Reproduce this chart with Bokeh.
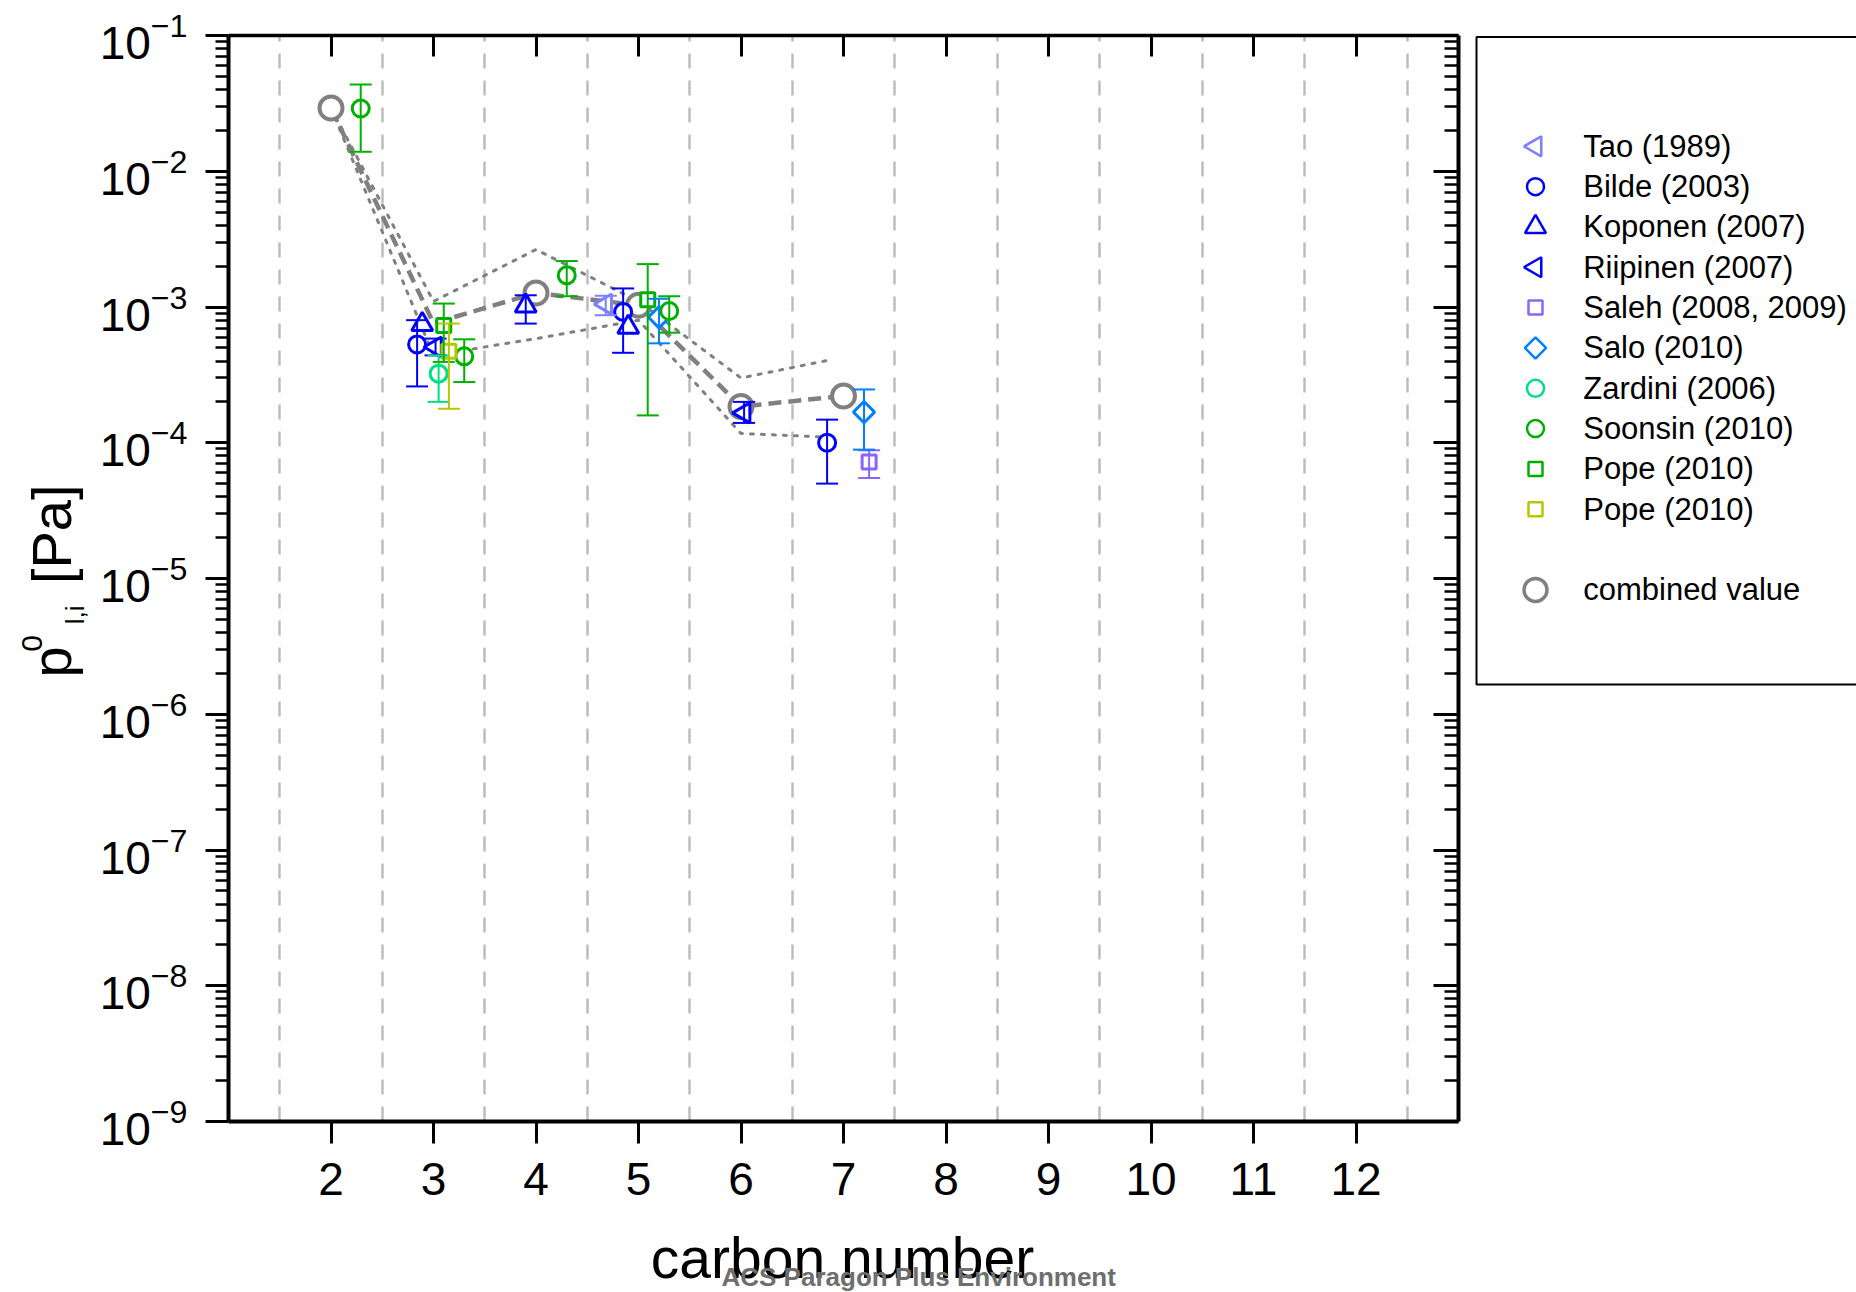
import math
from bokeh.plotting import figure
from bokeh.models import (ColumnDataSource, Whisker, TeeHead, LogAxis, LinearAxis,
                          FixedTicker, Range1d, CustomJSTickFormatter)
from bokeh.layouts import row, column
from bokeh.embed import file_html
from bokeh.resources import INLINE
from bokeh.core.properties import value

FONT = "Liberation Sans"

# ---------------- data ----------------
x_ticks = [2, 3, 4, 5, 6, 7, 8, 9, 10, 11, 12]
x_grid = [1.5, 2.5, 3.5, 4.5, 5.5, 6.5, 7.5, 8.5, 9.5, 10.5, 11.5, 12.5]
y_decades = [1e-9, 1e-8, 1e-7, 1e-6, 1e-5, 1e-4, 1e-3, 1e-2, 1e-1]

tao_x = [4.68]
tao_y = [1.05e-3]
tao_lo = [8.7e-4]
tao_hi = [1.21e-3]

bilde_x = [2.84, 4.85, 6.84]
bilde_y = [5.3e-4, 9.2e-4, 1.0e-4]
bilde_lo = [2.6e-4, 4.6e-4, 5.0e-5]
bilde_hi = [8.0e-4, 1.37e-3, 1.48e-4]

koponen_x = [2.89, 3.90, 4.90]
koponen_y = [7.45e-4, 1.02e-3, 7.1e-4]
koponen_lo = [None, 7.55e-4, None]
koponen_hi = [None, 1.22e-3, None]

riipinen_x = [3.02, 6.03]
riipinen_y = [5.07e-4, 1.66e-4]
riipinen_lo = [4.4e-4, 1.4e-4]
riipinen_hi = [5.85e-4, 2.0e-4]

saleh_x = [7.25]
saleh_y = [7.2e-5]
saleh_lo = [5.5e-5]
saleh_hi = [8.8e-5]

salo_x = [5.20, 7.20]
salo_y = [8.4e-4, 1.68e-4]
salo_lo = [5.4e-4, 8.9e-5]
salo_hi = [1.15e-3, 2.47e-4]

zardini_x = [3.05]
zardini_y = [3.23e-4]
zardini_lo = [2.0e-4]
zardini_hi = [4.4e-4]

soonsin_x = [2.29, 3.30, 4.30, 5.30]
soonsin_y = [2.9e-2, 4.33e-4, 1.71e-3, 9.35e-4]
soonsin_lo = [1.39e-2, 2.8e-4, 1.2e-3, 6.47e-4]
soonsin_hi = [4.36e-2, 5.78e-4, 2.18e-3, 1.2e-3]

pope_x = [3.10, 5.09]
pope_y = [7.3e-4, 1.13e-3]
pope_lo = [3.94e-4, 1.59e-4]
pope_hi = [1.06e-3, 2.07e-3]

pope2_x = [3.15]
pope2_y = [4.72e-4]
pope2_lo = [1.78e-4]
pope2_hi = [7.55e-4]

combined_x = [2, 3, 4, 5, 6, 7]
combined_y = [2.92e-2, 7.6e-4, 1.27e-3, 1.03e-3, 1.85e-4, 2.21e-4]
combined_marker = [True, False, True, True, True, True]

upper_x = [2, 3, 4, 5, 6, 6.85]
upper_y = [2.92e-2, 1.1e-3, 2.65e-3, 1.1e-3, 3.0e-4, 4.05e-4]
lower_x = [2, 3, 4, 5, 6, 6.85]
lower_y = [2.92e-2, 4.4e-4, 5.85e-4, 8.0e-4, 1.17e-4, 1.1e-4]

series_names = ["Tao (1989)", "Bilde (2003)", "Koponen (2007)", "Riipinen (2007)",
                "Saleh (2008, 2009)", "Salo (2010)", "Zardini (2006)", "Soonsin (2010)",
                "Pope (2010)", "Pope (2010)"]
combined_name = "combined value"
x_title = "carbon number"
y_title_parts = ["p", "0", "l,i", "[Pa]"]
watermark = "ACS Paragon Plus Environment"

# ---------------- styles ----------------
LEFT = math.pi / 2
series = [
    (tao_x, tao_y, tao_lo, tao_hi, "#8080ff", "triangle", LEFT, 20),
    (bilde_x, bilde_y, bilde_lo, bilde_hi, "#0000ff", "circle", 0, 17),
    (koponen_x, koponen_y, koponen_lo, koponen_hi, "#0000ff", "triangle", 0, 21),
    (riipinen_x, riipinen_y, riipinen_lo, riipinen_hi, "#0000ff", "triangle", LEFT, 20),
    (saleh_x, saleh_y, saleh_lo, saleh_hi, "#8866ff", "square", 0, 14),
    (salo_x, salo_y, salo_lo, salo_hi, "#0080ff", "square", math.pi / 4, 15),
    (zardini_x, zardini_y, zardini_lo, zardini_hi, "#00e080", "circle", 0, 17),
    (soonsin_x, soonsin_y, soonsin_lo, soonsin_hi, "#00b000", "circle", 0, 17),
    (pope_x, pope_y, pope_lo, pope_hi, "#00b000", "square", 0, 14),
    (pope2_x, pope2_y, pope2_lo, pope2_hi, "#b4c800", "square", 0, 14),
]
GRAY = "#808080"

# layout geometry (page pixels)
TOP, FH, BOT = 35, 1086, 96
YW = 96                # left panel with the y title
FW = 1230              # plot frame width
MAIN_LEFT = 227 - YW   # room for the y tick labels
MAIN_RIGHT = 10
LEGW = 1856 - (YW + MAIN_LEFT + FW + MAIN_RIGHT)
BOTTOM_H = 1292 - (TOP + FH + BOT)
LEG_X0 = YW + MAIN_LEFT + FW + MAIN_RIGHT


def panel(w, y_lo, y_hi, top, bot):
    f = figure(frame_width=w, frame_height=(y_hi - y_lo) if top is None else FH,
               x_range=Range1d(0, w), y_range=Range1d(y_hi, y_lo),
               min_border_left=0, min_border_right=0,
               min_border_top=top if top is not None else 0,
               min_border_bottom=bot if bot is not None else 0,
               x_axis_type=None, y_axis_type=None,
               output_backend="svg", toolbar_location=None)
    f.outline_line_color = None
    f.background_fill_color = "white"
    f.border_fill_color = "white"
    f.grid.visible = False
    return f


# ---------------- main figure ----------------
p = figure(x_range=Range1d(1, 13), y_range=Range1d(1e-9, 1e-1), y_axis_type="log",
           frame_width=FW, frame_height=FH,
           min_border_left=MAIN_LEFT, min_border_right=MAIN_RIGHT,
           min_border_top=TOP, min_border_bottom=BOT,
           output_backend="svg", toolbar_location=None)
p.outline_line_color = None
p.background_fill_color = "white"
p.border_fill_color = "white"

minor = [m * d for d in y_decades[:-1] for m in range(2, 10)]

xa = p.xaxis[0]
xa.ticker = FixedTicker(ticks=x_ticks)
xa.major_tick_out = 22
xa.major_tick_in = 0
xa.minor_tick_out = 0
xa.minor_tick_in = 0
xa.major_tick_line_width = 3
xa.axis_line_width = 4
xa.major_label_text_font = FONT
xa.major_label_text_font_size = "46px"
xa.major_label_text_color = "black"
xa.major_label_standoff = 19

ya = p.yaxis[0]
ya.ticker = FixedTicker(ticks=y_decades, minor_ticks=minor)
ya.major_tick_out = 23
ya.major_tick_in = 0
ya.minor_tick_out = 13
ya.minor_tick_in = 0
ya.major_tick_line_width = 3
ya.minor_tick_line_width = 2.5
ya.axis_line_width = 4
ya.major_label_text_font = FONT
ya.major_label_text_font_size = "46px"
ya.major_label_text_color = "black"
ya.major_label_standoff = 18

top_axis = LinearAxis(ticker=FixedTicker(ticks=x_ticks),
                      formatter=CustomJSTickFormatter(code="return ''"),
                      major_tick_in=21, major_tick_out=0, minor_tick_in=0, minor_tick_out=0,
                      major_tick_line_width=3, axis_line_width=3.5,
                      major_label_standoff=0, major_label_text_font_size="1px")
p.add_layout(top_axis, "above")

right_axis = LogAxis(ticker=FixedTicker(ticks=y_decades, minor_ticks=minor),
                     formatter=CustomJSTickFormatter(code="return ''"),
                     major_tick_in=25, major_tick_out=0, minor_tick_in=14, minor_tick_out=0,
                     major_tick_line_width=3, minor_tick_line_width=2.5, axis_line_width=4,
                     major_label_standoff=0, major_label_text_font_size="1px")
p.add_layout(right_axis, "right")

p.xgrid.ticker = FixedTicker(ticks=x_grid)
p.xgrid.grid_line_color = "#bdbdbd"
p.xgrid.grid_line_width = 2.5
p.xgrid.grid_line_dash = "15 12"
p.ygrid.visible = False

# bound and combined lines
p.line(upper_x, upper_y, line_color=GRAY, line_width=3, line_dash="3 8", line_cap="round")
p.line(lower_x, lower_y, line_color=GRAY, line_width=3, line_dash="3 8", line_cap="round")
p.line(combined_x, combined_y, line_color=GRAY, line_width=4.5, line_dash="13 7")
cmx = [x for x, s in zip(combined_x, combined_marker) if s]
cmy = [y for y, s in zip(combined_y, combined_marker) if s]
p.scatter(cmx, cmy, marker="circle", size=23, line_color=GRAY, line_width=4, fill_color="white")

# error bars
for xs, ys, lo, hi, col, mk, ang, sz in series:
    bx = [x for x, l in zip(xs, lo) if l is not None]
    bl = [l for l in lo if l is not None]
    bh = [h for h in hi if h is not None]
    if not bx:
        continue
    src = ColumnDataSource(dict(x=bx, lo=bl, hi=bh))
    w = Whisker(source=src, base="x", lower="lo", upper="hi", dimension="height",
                line_color=col, line_width=2, level="glyph",
                upper_head=TeeHead(size=22, line_color=col, line_width=2),
                lower_head=TeeHead(size=22, line_color=col, line_width=2))
    p.add_layout(w)

# data markers
for xs, ys, lo, hi, col, mk, ang, sz in series:
    p.scatter(xs, ys, marker=mk, size=sz, angle=ang, line_color=col, line_width=3,
              fill_color="white")

# ---------------- left panel: y-axis title ----------------
yfig = panel(YW, TOP, TOP + FH, TOP, BOT)
# (visual-centre x, start y, font size) for p, superscript 0, subscript l,i and [Pa]
yt_x = [51, 31.2, 74.2, 51]
yt_y = [677, 651.3, 623.7, 583.6]
yt_size = ["56px", "30px", "26px", "56px"]
for t, xx, yy, fs in zip(y_title_parts, yt_x, yt_y, yt_size):
    yfig.text(x=[xx], y=[yy], text=[t], angle=math.pi / 2, text_font=value(FONT),
              text_font_size=fs, text_color="black", text_align="left",
              text_baseline="middle")

# ---------------- legend panel ----------------
leg = panel(LEGW, TOP, TOP + FH, TOP, BOT)
leg.quad(left=[1475 - LEG_X0], right=[LEGW + 40], top=[TOP + 1.5], bottom=[684],
         fill_color=None, line_color="black", line_width=2)

ROW0, PITCH = 145.8, 40.33
MX, TX = 1534 - LEG_X0, 1581.7 - LEG_X0
row_y = [ROW0 + PITCH * i for i in range(len(series_names))]
for (xs, ys, lo, hi, col, mk, ang, sz), yy in zip(series, row_y):
    leg.scatter([MX], [yy], marker=mk, size=sz, angle=ang, line_color=col,
                line_width=2.5, fill_color="white")
comb_row = ROW0 + PITCH * (len(series_names) + 1)
leg.scatter([MX], [comb_row], marker="circle", size=23, line_color=GRAY,
            line_width=3.5, fill_color="white")

labels = series_names + [combined_name]
label_y = row_y + [comb_row]
leg.text(x=[TX] * len(labels), y=label_y, text=labels, text_font=value(FONT),
         text_font_size="31px", text_color="black", text_align="left",
         text_baseline="middle")

# ---------------- bottom panel: x-axis title and watermark ----------------
Y0 = TOP + FH + BOT
bfig = panel(1856, Y0, Y0 + BOTTOM_H, None, None)
bfig.text(x=[842], y=[1257], text=[x_title], text_font=value(FONT), text_font_size="57px",
          text_color="black", text_align="center", text_baseline="middle")
bfig.text(x=[721], y=[1276], text=[watermark], text_font=value(FONT), text_font_size="26px",
          text_font_style="bold", text_color="#6e6e6e", text_align="left",
          text_baseline="middle")

layout = column(row(yfig, p, leg), bfig)
open("out.html", "w").write(file_html(layout, INLINE))
